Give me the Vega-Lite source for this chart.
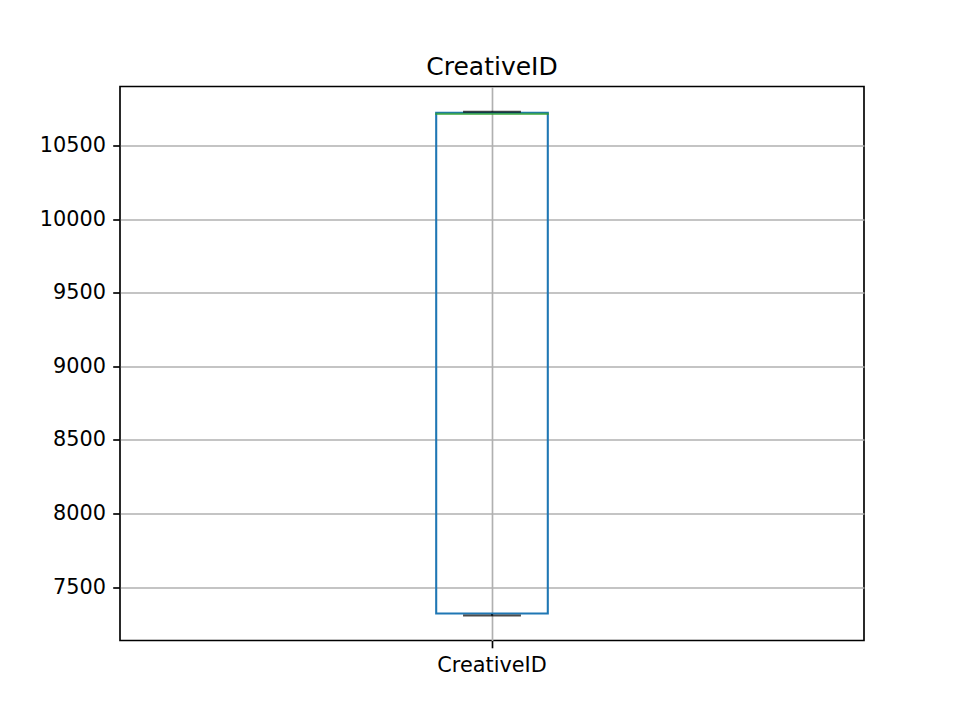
{
  "$schema": "https://vega.github.io/schema/vega-lite/v6.json",
  "autosize": {"type": "none"},
  "width": 744,
  "height": 554,
  "padding": {"left": 120, "top": 86.5, "right": 96, "bottom": 79.5},
  "background": "white",
  "title": {"text": "CreativeID", "font": "DejaVu Sans", "fontSize": 25, "fontWeight": "normal", "color": "black", "anchor": "middle", "offset": 12.5, "baseline": "alphabetic", "dy": 26},
  "config": {
    "view": {"stroke": "black", "strokeWidth": 1.67},
    "axis": {"labelFont": "DejaVu Sans", "labelFontSize": 20.8, "labelColor": "black", "tickColor": "black", "tickSize": 7.3, "tickWidth": 1.67, "domain": false, "gridColor": "#b0b0b0", "gridWidth": 1.67, "title": null, "labelPadding": 7.3}
  },
  "data": {"values": [{"name": "CreativeID", "min": 7307, "q1": 7321, "median": 10717, "q3": 10725, "max": 10731}]},
  "encoding": {
    "x": {"field": "name", "type": "nominal", "scale": {"paddingInner": 0, "paddingOuter": 0}, "axis": {"labelAngle": 0, "grid": true, "bandPosition": 0.5}}
  },
  "layer": [
    {
      "mark": {"type": "rule", "color": "black", "strokeWidth": 2.08},
      "encoding": {
        "y": {"field": "q3", "type": "quantitative", "scale": {"domain": [7137, 10903], "nice": false, "zero": false}, "axis": {"values": [7500, 8000, 8500, 9000, 9500, 10000, 10500], "grid": true, "format": "d"}},
        "y2": {"field": "max"}
      }
    },
    {
      "mark": {"type": "rule", "color": "black", "strokeWidth": 2.08},
      "encoding": {"y": {"field": "min", "type": "quantitative"}, "y2": {"field": "q1"}}
    },
    {
      "mark": {"type": "bar", "fill": null, "fillOpacity": 0, "stroke": "#1f77b4", "strokeWidth": 2.08, "size": 111.6},
      "encoding": {"y": {"field": "q1", "type": "quantitative"}, "y2": {"field": "q3"}}
    },
    {
      "mark": {"type": "tick", "orient": "horizontal", "color": "#2ca02c", "thickness": 2.08, "size": 113.7},
      "encoding": {"y": {"field": "median", "type": "quantitative"}}
    },
    {
      "mark": {"type": "tick", "orient": "horizontal", "color": "black", "thickness": 2.08, "size": 57.9},
      "encoding": {"y": {"field": "max", "type": "quantitative"}}
    },
    {
      "mark": {"type": "tick", "orient": "horizontal", "color": "black", "thickness": 2.08, "size": 57.9},
      "encoding": {"y": {"field": "min", "type": "quantitative"}}
    }
  ]
}
